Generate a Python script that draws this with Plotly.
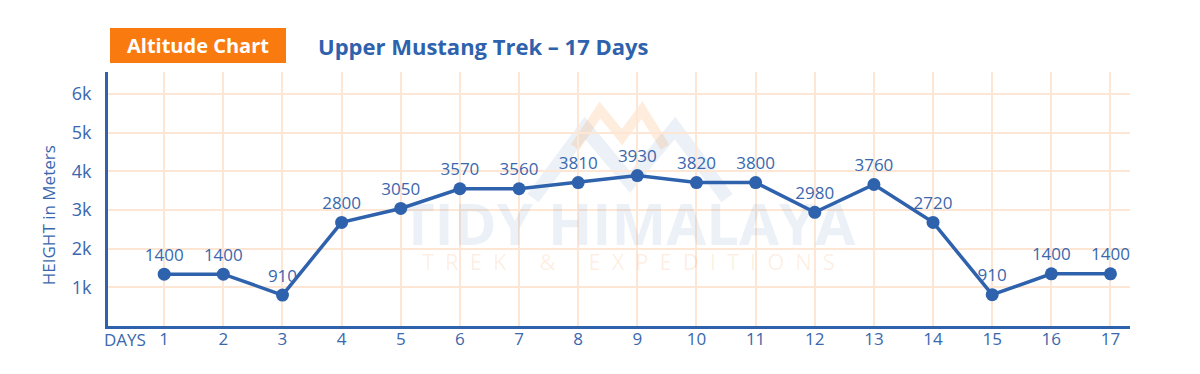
import plotly.graph_objects as go

# ---- data ----
days = list(range(1, 18))
day_labels = [str(d) for d in days]
heights = [1340, 1340, 800, 2680, 3040, 3550, 3550, 3710, 3890, 3710, 3710, 2940, 3660, 2680, 810, 1350, 1350]
height_labels = ["1400", "1400", "910", "2800", "3050", "3570", "3560", "3810", "3930",
                 "3820", "3800", "2980", "3760", "2720", "910", "1400", "1400"]
y_tick_vals = [1000, 2000, 3000, 4000, 5000, 6000]
y_tick_text = ["1k", "2k", "3k", "4k", "5k", "6k"]

# page body has an 8px margin -> work in reference pixels minus 8
OFF = 8
W, H = 1192, 366
PL, PR, PT, PB = 108, 1130, 72, 325.6   # plot box in reference pixels
L = PL - OFF
R = W - (PR - OFF)
T = PT - OFF
B = H - (PB - OFF)
PW, PH = W - L - R, H - T - B

def px(x):
    return (x - OFF - L) / PW

def py(y):
    return (H - B - (y - OFF)) / PH

BLUE = "#2f62ad"
TXT = "#3a67ad"
ORANGE = "#f97b10"
GRID = "#fde6d4"
FONT = "Open Sans"

fig = go.Figure()
fig.add_trace(go.Scatter(
    x=days, y=heights, mode="lines+markers+text",
    text=height_labels, textposition="top center",
    textfont=dict(size=17, color=TXT, family=FONT),
    line=dict(color=BLUE, width=3.5),
    marker=dict(color=BLUE, size=13),
    cliponaxis=False, hoverinfo="skip", showlegend=False,
))

shapes = [
    dict(type="rect", xref="paper", yref="paper", x0=px(110), x1=px(286), y0=py(63), y1=py(28),
         fillcolor=ORANGE, line=dict(width=0), layer="above"),
    dict(type="path", xref="paper", yref="paper", layer="below",
         path="M {} {} L {} {} L {} {} L {} {} L {} {}".format(
             px(533), py(198), px(585), py(128), px(630), py(182), px(675), py(128), px(727), py(198)),
         line=dict(color="rgba(47,98,173,0.09)", width=14)),
    dict(type="path", xref="paper", yref="paper", layer="below",
         path="M {} {} L {} {} L {} {} L {} {} L {} {}".format(
             px(575), py(147), px(600), py(110), px(622), py(137), px(642), py(110), px(665), py(147)),
         line=dict(color="rgba(249,123,16,0.14)", width=10)),
]

sp = "\u2002"
sub = sp.join("TREK") + "\u2003" + sp + "&" + sp + "\u2003" + sp.join("EXPEDITIONS")

annotations = [
    dict(text="<b>Altitude Chart</b>", xref="paper", yref="paper", x=px(198), y=py(46),
         showarrow=False, font=dict(size=20, color="white", family=FONT), xanchor="center", yanchor="middle"),
    dict(text="<b>Upper Mustang Trek – 17 Days</b>", xref="paper", yref="paper", x=px(316), y=py(46),
         showarrow=False, font=dict(size=22, color=BLUE, family=FONT), xanchor="left", yanchor="middle"),
    dict(text="HEIGHT in Meters", xref="paper", yref="paper", x=px(48), y=py(215), textangle=-90,
         showarrow=False, font=dict(size=17, color=TXT, family=FONT), xanchor="center", yanchor="middle"),
    dict(text="DAYS", xref="paper", yref="paper", x=px(125), y=py(339),
         showarrow=False, font=dict(size=17, color=TXT, family=FONT), xanchor="center", yanchor="middle"),
    dict(text="<b>TIDY HIMALAYA</b>", xref="paper", yref="paper", x=px(628), y=py(222),
         showarrow=False, font=dict(size=58, color="rgba(47,98,173,0.09)", family=FONT),
         xanchor="center", yanchor="middle"),
    dict(text=sub, xref="paper", yref="paper", x=px(628), y=py(261),
         showarrow=False, font=dict(size=22, color="rgba(249,123,16,0.12)", family=FONT),
         xanchor="center", yanchor="middle"),
]

fig.update_layout(
    width=W, height=H,
    margin=dict(l=L, r=R, t=T, b=B, pad=0),
    paper_bgcolor="white", plot_bgcolor="white",
    font=dict(family=FONT, color=TXT),
    shapes=shapes, annotations=annotations,
    xaxis=dict(range=[0.05, 17.33], tickmode="array", tickvals=days, ticktext=day_labels,
               showgrid=True, gridcolor=GRID, gridwidth=1.5, zeroline=False,
               showline=True, linecolor=BLUE, linewidth=3, ticks="",
               tickfont=dict(size=17, color=TXT, family=FONT), ticklabelstandoff=-4, fixedrange=True),
    yaxis=dict(range=[0, 6570], tickmode="array", tickvals=y_tick_vals, ticktext=y_tick_text,
               showgrid=True, gridcolor=GRID, gridwidth=1.5, zeroline=False,
               showline=True, linecolor=BLUE, linewidth=3, ticks="",
               tickfont=dict(size=18, color=TXT, family=FONT), ticklabelstandoff=10, fixedrange=True),
)

fig.write_html("out.html")
